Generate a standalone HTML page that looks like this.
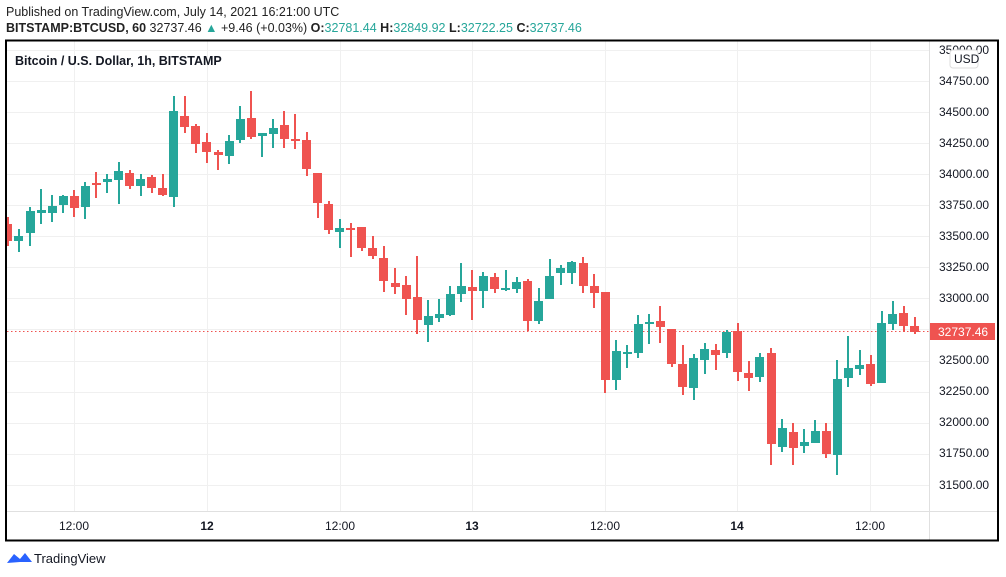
<!DOCTYPE html>
<html><head><meta charset="utf-8"><style>
html,body{margin:0;padding:0;background:#fff;width:1006px;height:577px;overflow:hidden;font-family:"Liberation Sans",sans-serif;}
.t{position:absolute;white-space:nowrap;color:#131722;}
</style></head><body>
<div class="t" style="left:6px;top:5px;font-size:12.5px;color:#222;">Published on TradingView.com, July 14, 2021 16:21:00 UTC</div>
<div class="t" style="left:6px;top:21px;font-size:12.5px;color:#222;"><b>BITSTAMP:BTCUSD, 60</b> 32737.46 <span style="color:#26a69a">▲</span> +9.46 (+0.03%) <b>O:</b><span style="color:#26a69a">32781.44</span> <b>H:</b><span style="color:#26a69a">32849.92</span> <b>L:</b><span style="color:#26a69a">32722.25</span> <b>C:</b><span style="color:#26a69a">32737.46</span></div>
<svg id="s" width="1006" height="577" style="position:absolute;left:0;top:0" xmlns="http://www.w3.org/2000/svg" font-family="Liberation Sans, sans-serif">
<g id="grid" stroke="#f0f0f0" stroke-width="1"></g>
<line x1="7" y1="511.5" x2="997" y2="511.5" stroke="#e0e0e0"/>
<line x1="929.5" y1="41" x2="929.5" y2="540" stroke="#e0e0e0"/>
<line x1="7" y1="331.5" x2="929" y2="331.5" stroke="#ef5350" stroke-dasharray="1.5,2.5"/>
<g id="c"></g>
<rect x="6" y="40.5" width="992" height="500" fill="none" stroke="#000" stroke-width="2"/>
<text x="15" y="65" font-size="12.5" font-weight="bold" fill="#131722">Bitcoin / U.S. Dollar, 1h, BITSTAMP</text>
<g font-size="12" fill="#131722">
<text x="939" y="54">35000.00</text><text x="939" y="85">34750.00</text><text x="939" y="116">34500.00</text><text x="939" y="147">34250.00</text><text x="939" y="178">34000.00</text><text x="939" y="209">33750.00</text><text x="939" y="240">33500.00</text><text x="939" y="271">33250.00</text><text x="939" y="302">33000.00</text><text x="939" y="364">32500.00</text><text x="939" y="395">32250.00</text><text x="939" y="426">32000.00</text><text x="939" y="457">31750.00</text><text x="939" y="489">31500.00</text>
</g>
<rect x="950" y="50" width="28" height="18" rx="3" fill="#fff" stroke="#ddd"/>
<text x="954" y="63" font-size="12" fill="#131722">USD</text>
<rect x="930" y="323" width="65" height="17" fill="#ef5350"/>
<text x="938" y="336" font-size="12" fill="#fff">32737.46</text>
<g font-size="12" fill="#131722" text-anchor="middle">
<text x="74" y="530">12:00</text><text x="207" y="530" font-weight="bold">12</text><text x="340" y="530">12:00</text><text x="472" y="530" font-weight="bold">13</text><text x="605" y="530">12:00</text><text x="737" y="530" font-weight="bold">14</text><text x="870" y="530">12:00</text>
</g>
<path d="M7 563 L14 554 L20 559 L25 553 L32 562 L20 562 Z" fill="#2962ff"/>
<text x="34" y="563" font-size="13" fill="#131722">TradingView</text>
</svg>
<script>
var g=document.getElementById('grid'),c=document.getElementById('c'),ns='http://www.w3.org/2000/svg';
function el(p,t,a){var e=document.createElementNS(ns,t);for(var k in a)e.setAttribute(k,a[k]);p.appendChild(e);}
for(var y=50;y<=500;y+=31.05){el(g,'line',{x1:7,x2:929,y1:Math.round(y)+.5,y2:Math.round(y)+.5});}
[74,207,340,472,605,737,870].forEach(function(x){el(g,'line',{x1:x+.5,x2:x+.5,y1:41,y2:511});});
// [isGreen, bodyTop, bodyBot, wickTop, wickBot]
var d=[[0,224,241,217,246],[1,236,241,229,252],[1,211,233,207,246],[1,210,213,189,224],[1,206,213,195,222],[1,196,205,195,213],[0,196,208,190,217],[1,186,207,182,219],[0,183,185,172,198],[1,179,182,174,193],[1,171,180,162,204],[0,173,186,170,189],[1,179,186,174,196],[0,177,188,175,193],[0,188,195,174,196],[1,111,197,96,207],[0,116,127,96,133],[0,126,144,124,153],[0,142,152,133,163],[0,152,155,150,170],[1,141,156,135,164],[1,119,140,106,143],[0,118,137,91,139],[1,133,136,133,157],[1,128,134,119,148],[0,125,139,111,148],[0,139,141,114,149],[0,140,169,132,176],[0,173,203,173,218],[0,204,230,201,234],[1,228,232,219,248],[0,228,229,223,257],[0,227,248,227,251],[0,248,256,236,259],[0,258,281,246,292],[0,283,287,268,294],[0,285,299,276,315],[0,297,320,256,334],[1,316,325,300,342],[1,314,318,299,322],[1,294,315,286,316],[1,286,294,263,302],[0,287,291,270,320],[1,276,291,272,308],[0,277,289,273,293],[1,288,289,270,291],[1,282,289,277,293],[0,281,321,279,331],[1,301,321,288,324],[1,276,299,259,299],[1,268,273,265,285],[1,262,273,261,284],[0,263,286,257,293],[0,286,293,274,308],[0,292,380,292,393],[1,351,380,340,390],[1,352,354,345,368],[1,324,353,315,358],[1,322,324,314,344],[0,321,327,306,343],[0,329,364,329,367],[0,364,387,345,395],[1,358,388,354,400],[1,349,360,343,374],[0,350,355,344,370],[1,332,353,330,358],[0,331,372,323,381],[0,373,378,361,391],[1,357,377,353,382],[0,353,444,348,465],[1,428,447,419,452],[0,432,448,423,465],[1,442,446,429,453],[1,431,443,420,443],[0,431,454,423,458],[1,379,455,360,475],[1,368,378,336,387],[1,365,369,350,375],[0,364,384,355,386],[1,323,383,311,383],[1,314,324,301,330],[0,313,326,306,332],[0,326,332,317,334]];
d.forEach(function(k,i){var cx=7.9+11.06*i,col=k[0]?'#26a69a':'#ef5350';
var x0=Math.max(7,Math.round(cx-4.5)),x1=Math.round(cx+4.5);
el(c,'rect',{x:Math.round(cx)-1,y:k[3],width:2,height:k[4]-k[3],fill:col});
el(c,'rect',{x:x0,y:k[1],width:x1-x0,height:Math.max(2,k[2]-k[1]),fill:col});});
</script>
</body></html>
